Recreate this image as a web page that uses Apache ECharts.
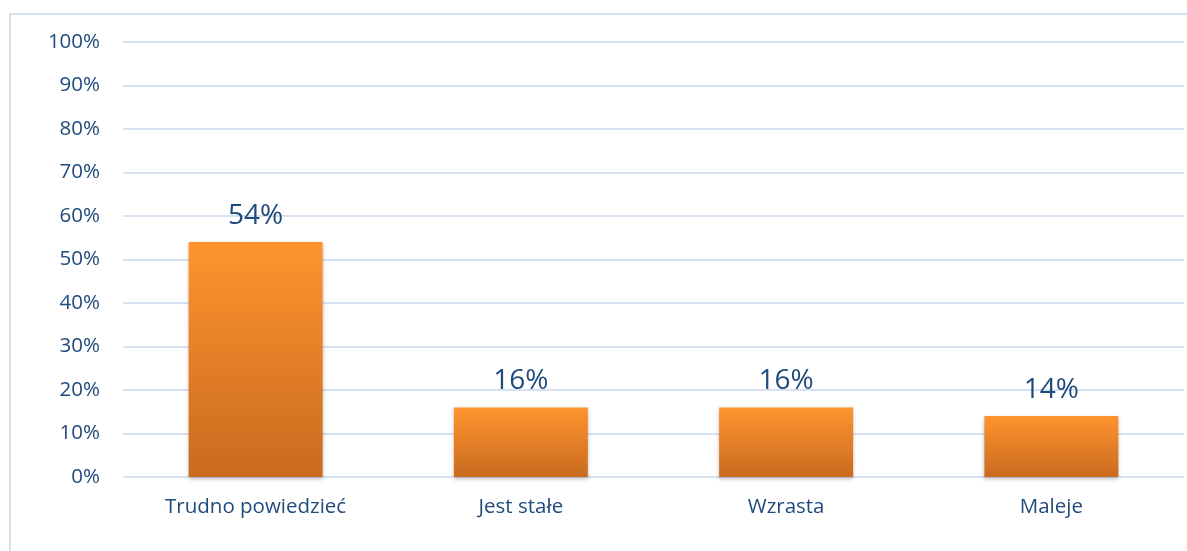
<!DOCTYPE html>
<html>
<head>
<meta charset="utf-8">
<script src="https://cdn.jsdelivr.net/npm/echarts@6/dist/echarts.min.js"></script>
<style>
html,body{margin:0;padding:0;background:#fff;}
#chart{width:1187px;height:551px;}
</style>
</head>
<body>
<div id="chart"></div>
<script>
const categories = ['Trudno powiedzieć', 'Jest stałe', 'Wzrasta', 'Maleje'];
const values = [54, 16, 16, 14];
const yTicks = [0, 10, 20, 30, 40, 50, 60, 70, 80, 90, 100];

const textColor = '#1F4A7C';
const font = '"Open Sans", sans-serif';
const chart = echarts.init(document.getElementById('chart'));
chart.setOption({
  animation: false,
  backgroundColor: '#ffffff',
  graphic: [{
    type: 'rect',
    shape: {x: 10, y: 14, width: 1200, height: 600},
    style: {fill: 'none', stroke: '#D6E2F2', lineWidth: 2},
    silent: true
  }],
  grid: {left: 123, right: 3, top: 42, bottom: 74},
  xAxis: {
    type: 'category',
    data: categories,
    axisLine: {show: false},
    axisTick: {show: false},
    axisLabel: {color: textColor, fontSize: 20.5, fontFamily: font, margin: 20}
  },
  yAxis: {
    type: 'value',
    min: yTicks[0],
    max: yTicks[yTicks.length - 1],
    interval: 10,
    axisLine: {show: false},
    axisTick: {show: false},
    axisLabel: {color: textColor, fontSize: 20.5, fontFamily: font, margin: 23, formatter: '{value}%'},
    splitLine: {lineStyle: {color: '#D6E2F2', width: 2}}
  },
  series: [{
    type: 'bar',
    data: values,
    barWidth: '50.5%',
    itemStyle: {
      color: new echarts.graphic.LinearGradient(0, 0, 0, 1, [
        {offset: 0, color: '#FF942F'},
        {offset: 1, color: '#C96A1F'}
      ]),
      shadowColor: 'rgba(0,0,0,0.25)',
      shadowBlur: 4,
      shadowOffsetY: 2
    },
    label: {
      show: true,
      position: 'top',
      distance: 12,
      formatter: '{c}%',
      color: textColor,
      fontSize: 28,
      fontFamily: font
    }
  }]
});
</script>
</body>
</html>
